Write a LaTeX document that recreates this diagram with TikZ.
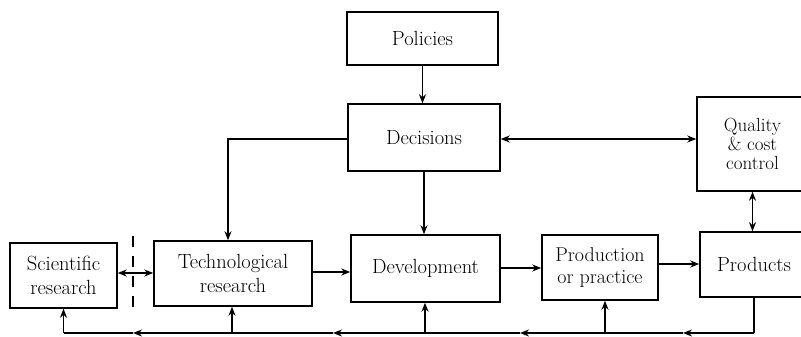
\documentclass[tikz,border=0pt]{standalone}
\usetikzlibrary{arrows.meta}
\begin{document}
\begin{tikzpicture}[x=1pt,y=-1pt,
  box/.style={draw,line width=1.5pt,inner sep=0pt,align=center,font=\fontsize{20.5}{24}\selectfont},
  conn/.style={line width=1.5pt},
  arr/.style={conn,-{Stealth[length=9pt,width=7pt]}},
  darr/.style={conn,{Stealth[length=9pt,width=7pt]}-{Stealth[length=9pt,width=7pt]}}]
\useasboundingbox (0,0) rectangle (801,337);
\clip (0,0) rectangle (801,337);
\node[box,minimum width=151pt,minimum height=53pt] (pol) at (422.5,38.5) {Policies};
\node[box,minimum width=152pt,minimum height=67pt] (dec) at (424,137.5) {Decisions};
\node[box,minimum width=111pt,minimum height=94pt,font=\fontsize{19}{19}\selectfont] (qual) at (752.5,144) {Quality\\\& cost\\control};
\node[box,minimum width=107pt,minimum height=65pt] (sci) at (63.5,275.5) {Scientific\\research};
\node[box,minimum width=158pt,minimum height=65pt] (tech) at (233,273.5) {Technological\\research};
\node[box,minimum width=149pt,minimum height=67pt] (dev) at (425.5,268.5) {Development};
\node[box,minimum width=116pt,minimum height=65pt,font=\fontsize{20}{22}\selectfont] (prod) at (600,267.5) {Production\\or practice};
\node[box,minimum width=108pt,minimum height=65pt] (prods) at (754,264.5) {Products};
% top connectors
\draw[arr] (pol.south) -- (pol.south |- dec.north);
\draw[arr] (dec.south) -- (dec.south |- dev.north);
\draw[darr] ([yshift=-1.5pt]dec.east) -- ([yshift=-1.5pt]dec.east -| qual.west);
\draw[arr] ([yshift=-1.5pt]dec.west) -| ([xshift=-5pt]tech.north);
\draw[darr] (qual.south) -- (qual.south |- prods.north);
% main row
\draw[darr] (sci.east |- 0,273) -- (tech.west |- 0,273);
\draw[arr] (tech.east |- 0,272) -- (dev.west |- 0,272);
\draw[arr] (dev.east |- 0,268) -- (prod.west |- 0,268);
\draw[arr] (prod.east |- 0,264) -- (prods.west |- 0,264);
% dashed separator
\coordinate (dtop) at (133,236);
\coordinate (dbot) at (133,314);
\draw[line width=1.5pt,dash pattern=on 11pt off 9pt] (dtop) -- (dbot);
% feedback line
\coordinate (f1) at (prods.south |- 0,333);
\coordinate (m1) at (683,333);
\coordinate (b1) at (605,333);
\coordinate (m2) at (520,333);
\coordinate (b2) at (425,333);
\coordinate (m3) at (333,333);
\coordinate (b3) at (232,333);
\coordinate (m4) at (133,333);
\coordinate (b4) at (sci.south |- 0,333);
\draw[conn] (prods.south) -- (f1);
\draw[arr] (f1) -- (m1);
\draw[conn] (m1) -- (b1);
\draw[arr] (b1) -- (m2);
\draw[conn] (m2) -- (b2);
\draw[arr] (b2) -- (m3);
\draw[conn] (m3) -- (b3);
\draw[arr] (b3) -- (m4);
\draw[conn] (m4) -- (b4);
\draw[arr] (b1) -- (b1 |- prod.south);
\draw[arr] (b2) -- (b2 |- dev.south);
\draw[arr] (b3) -- (b3 |- tech.south);
\draw[arr] (b4) -- (sci.south);
\end{tikzpicture}
\end{document}
